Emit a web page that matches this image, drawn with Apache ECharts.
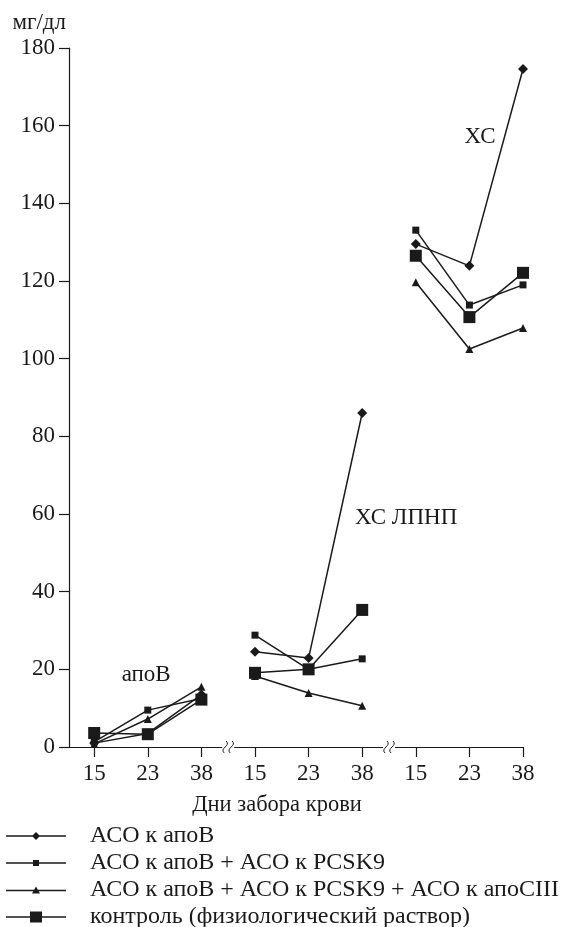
<!DOCTYPE html>
<html><head><meta charset="utf-8">
<script src="https://cdn.jsdelivr.net/npm/echarts@6/dist/echarts.min.js"></script>
<style>html,body{margin:0;padding:0;background:#fff}#c{width:563px;height:927px}</style>
</head><body><div id="c"></div>
<script>
// Tick labels (days of blood sampling), three groups: апоВ, ХС ЛПНП, ХС
const dayLabels = ['15','23','38','15','23','38','15','23','38'];
const groupSize = 3;
const seriesNames = [
  'АСО к апоВ',
  'АСО к апоВ + АСО к PCSK9',
  'АСО к апоВ + АСО к PCSK9 + АСО к апоСIII',
  'контроль (физиологический раствор)'
];
const asoApoB      = [1.0, 3.5, 13.5, 24.5, 22.9, 86.0, 129.5, 123.9, 174.6];
const asoPcsk9     = [1.3, 9.5, 12.5, 28.8, 20.0, 22.7, 133.1, 113.8, 119.0];
const asoApoC3     = [0.8, 7.2, 15.5, 18.3, 13.9, 10.6, 119.7, 102.5, 107.9];
const control      = [3.6, 3.3, 12.2, 19.1, 20.0, 35.3, 126.5, 110.7, 122.1];
const groupLabels  = ['апоВ', 'ХС ЛПНП', 'ХС'];
const yTicks = [0, 20, 40, 60, 80, 100, 120, 140, 160, 180];

const FONT = 'Liberation Serif';
const INK = '#1a1a1a';
const FS = 23;

function toPairs(vals) {
  const out = [];
  vals.forEach((v, i) => {
    if (i > 0 && i % groupSize === 0) out.push([i - 0.5, '-']);
    out.push([i, v]);
  });
  return out;
}
const breakPos = [];
for (let i = groupSize; i < dayLabels.length; i += groupSize) breakPos.push([i - 0.5, 0]);

const symbols = [
  {symbol: 'diamond', size: 10},
  {symbol: 'rect', size: 7},
  {symbol: 'triangle', size: 8},
  {symbol: 'rect', size: 12}
];
// legend icons: line with marker in the middle (60 px wide)
const legendIcons = [
  'path://M0,3.25L60,3.25L60,4.75L0,4.75Z M30,0L34,4L30,8L26,4Z',
  'path://M0,3.25L60,3.25L60,4.75L0,4.75Z M27,1L33,1L33,7L27,7Z',
  'path://M0,4.25L60,4.25L60,5.75L0,5.75Z M30,1L34,8L26,8Z',
  'path://M0,4.75L60,4.75L60,6.25L0,6.25Z M24,0L36,0L36,11L24,11Z'
];
const values = [asoApoB, asoPcsk9, asoApoC3, control];

const lineSeries = values.map((vals, k) => ({
  name: seriesNames[k],
  type: 'line',
  data: toPairs(vals),
  symbol: symbols[k].symbol,
  symbolSize: symbols[k].size,
  showAllSymbol: true,
  connectNulls: false,
  lineStyle: {color: INK, width: 1.5},
  itemStyle: {color: INK},
  z: 3 + (k === 3 ? 1 : 0)
}));

const chart = echarts.init(document.getElementById('c'), null, {renderer: 'canvas'});
chart.setOption({
  animation: false,
  backgroundColor: '#fff',
  textStyle: {fontFamily: FONT, color: INK},
  grid: {left: 69, right: 40, top: 48, bottom: 180, containLabel: false, outerBoundsMode: 'none'},
  legend: {
    data: seriesNames.map((n, k) => ({name: n, icon: legendIcons[k]})),
    orient: 'vertical',
    left: 6, top: 824, height: 140,
    padding: 0,
    itemWidth: 60, itemHeight: 12, itemGap: 3,
    textStyle: {fontFamily: FONT, fontSize: 24, color: INK, padding: [0, 0, 0, 19]},
    selectedMode: false
  },
  xAxis: {
    type: 'value',
    min: -0.47, max: dayLabels.length - 1,
    name: 'Дни забора крови',
    nameLocation: 'middle',
    nameGap: 47,
    nameTextStyle: {fontFamily: FONT, fontSize: 22.5, color: INK, padding: [0, 38, 0, 0]},
    axisLine: {onZero: false, lineStyle: {color: INK, width: 1.2}},
    axisTick: {show: true, length: 10, lineStyle: {color: INK, width: 1.2}, customValues: dayLabels.map((d, i) => i)},
    axisLabel: {
      fontFamily: FONT, fontSize: FS, color: INK, margin: 15,
      customValues: dayLabels.map((d, i) => i),
      formatter: v => dayLabels[Math.round(v)]
    },
    splitLine: {show: false}
  },
  yAxis: {
    type: 'value',
    min: yTicks[0], max: yTicks[yTicks.length - 1], interval: yTicks[1] - yTicks[0],
    name: 'мг/дл',
    nameLocation: 'end',
    nameGap: 14,
    nameTextStyle: {fontFamily: FONT, fontSize: 23, color: INK, align: 'right', padding: [0, 3, 0, 0]},
    axisLine: {show: true, onZero: false, lineStyle: {color: INK, width: 1.2}},
    axisTick: {show: true, length: 10, lineStyle: {color: INK, width: 1.2}},
    axisLabel: {fontFamily: FONT, fontSize: FS, color: INK, margin: 14},
    splitLine: {show: false}
  },
  series: lineSeries.concat([
    {
      type: 'custom',
      silent: true,
      clip: false,
      z: 5,
      data: breakPos,
      renderItem: function (params, api) {
        const p = api.coord([api.value(0), api.value(1)]);
        const cx = p[0], cy = p[1];
        const s = (c) => ({
          type: 'bezierCurve',
          shape: {x1: c - 1, y1: cy + 6, cpx1: c - 6, cpy1: cy + 1, cpx2: c + 6, cpy2: cy - 1, x2: c + 1, y2: cy - 6},
          style: {stroke: INK, fill: null, lineWidth: 1}
        });
        return {type: 'group', children: [
          {type: 'rect', shape: {x: cx - 6, y: cy - 2, width: 12, height: 4}, style: {fill: '#fff'}},
          s(cx - 3), s(cx + 3)
        ]};
      }
    },
    {
      type: 'scatter',
      silent: true,
      symbol: 'circle',
      symbolSize: 1,
      itemStyle: {opacity: 1, color: 'rgba(0,0,0,0)'},
      data: [
        {value: [0.97, 18.5], name: groupLabels[0]},
        {value: [5.82, 59.0], name: groupLabels[1]},
        {value: [7.2, 157.0], name: groupLabels[2]}
      ],
      label: {
        show: true, position: 'inside', formatter: '{b}',
        fontFamily: FONT, fontSize: FS, color: INK
      },
      z: 6
    }
  ])
});
</script>
</body></html>
